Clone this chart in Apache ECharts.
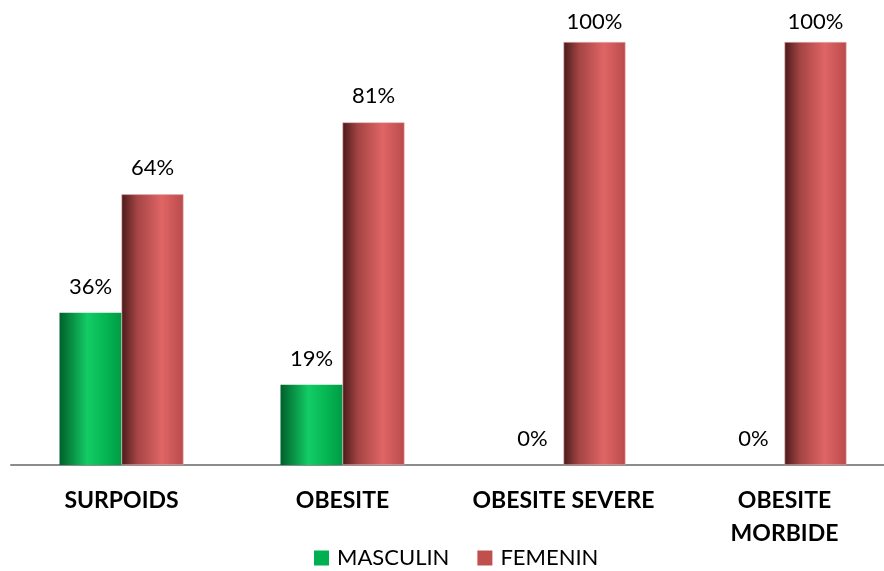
<!DOCTYPE html>
<html>
<head>
<meta charset="utf-8">
<script src="https://cdn.jsdelivr.net/npm/echarts@6/dist/echarts.min.js"></script>
<style>
  html, body { margin: 0; padding: 0; background: #fff; }
  #chart { width: 884px; height: 571px; }
</style>
</head>
<body>
<div id="chart"></div>
<script>
// Categories and percentages per sex
const categories = ['SURPOIDS', 'OBESITE', 'OBESITE SEVERE', 'OBESITE\nMORBIDE'];
const masculin = [36, 19, 0, 0];
const femenin = [64, 81, 100, 100];
const seriesNames = ['MASCULIN', 'FEMENIN'];
const Y_MAX = 100;

const FONT = 'Lato, "Open Sans", sans-serif';

// cylinder-like horizontal shading for each bar
function shade(stops) {
  return new echarts.graphic.LinearGradient(0, 0, 1, 0,
    stops.map(s => ({ offset: s[0], color: s[1] })));
}
const greenFill = shade([[0, '#00602a'], [0.45, '#13cc66'], [0.75, '#05b552'], [1, '#009b45']]);
const redFill = shade([[0, '#4a1a1a'], [0.25, '#a44444'], [0.65, '#e06565'], [1, '#b94b4b']]);

const valueLabel = {
  show: true, position: 'top', distance: 15, formatter: '{c}%',
  fontFamily: FONT, fontSize: 22, color: '#000'
};

// labels at the top of the scale are kept inside the plot area
function withLabels(values) {
  return values.map(v => v >= Y_MAX ? { value: v, label: { distance: 9 } } : v);
}

const chart = echarts.init(document.getElementById('chart'));
chart.setOption({
  animation: false,
  backgroundColor: '#ffffff',
  grid: { left: 11, top: 42, width: 884, height: 423, containLabel: false, outerBoundsMode: 'none' },
  legend: {
    data: [
      { name: seriesNames[0], itemStyle: { color: '#00b050', borderWidth: 0 } },
      { name: seriesNames[1], itemStyle: { color: '#c0504d', borderWidth: 0 } }
    ],
    top: 542,
    left: 309,
    icon: 'rect',
    itemWidth: 15,
    itemHeight: 15,
    itemGap: 28,
    textStyle: { fontFamily: FONT, fontSize: 22, color: '#000', padding: [0, 0, 0, 3] }
  },
  xAxis: {
    type: 'category',
    data: categories,
    axisLine: { lineStyle: { color: '#8c8c8c', width: 2 } },
    axisTick: { show: false },
    axisLabel: {
      fontFamily: FONT, fontSize: 23, fontWeight: 'bold', color: '#000',
      lineHeight: 33, margin: 19, interval: 0
    }
  },
  yAxis: {
    type: 'value', min: 0, max: Y_MAX,
    show: false,
    splitLine: { show: false }
  },
  series: [
    {
      name: seriesNames[0], type: 'bar', data: withLabels(masculin),
      barWidth: 62, barGap: '0%',
      itemStyle: { color: greenFill },
      label: valueLabel
    },
    {
      name: seriesNames[1], type: 'bar', data: withLabels(femenin),
      barWidth: 62,
      itemStyle: { color: redFill, borderColor: '#e8b0b0', borderWidth: 0.6 },
      label: valueLabel
    }
  ]
});
</script>
</body>
</html>
